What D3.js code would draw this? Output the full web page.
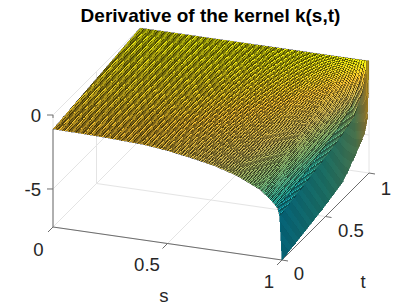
<!DOCTYPE html>
<html><head><meta charset="utf-8">
<script src="https://cdn.jsdelivr.net/npm/d3@7"></script>
<style>html,body{margin:0;padding:0;background:#fff}svg{display:block}text{font-family:"Liberation Sans",Arial,sans-serif}</style>
</head><body><svg id="c" width="407" height="305"></svg>
<script>
const title = "Derivative of the kernel k(s,t)";
const sTicks = [0, 0.5, 1];
const tTicks = [0, 0.5, 1];
const zTicks = [-5, 0];
const sKnots = [0, .2, .4, .5, .6, .7, .8, .9, .95, .98, .99, 1];
const tKnots = [0, .25, .5, .7, .85, .95, .98, .99, 1];
const zAtT000 = [-.95, -1.00, -1.12, -1.30, -1.55, -1.85, -2.30, -3.00, -3.60, -4.10, -4.65, -7.57];
const zAtT025 = [-.72, -.76, -.85, -.98, -1.17, -1.42, -1.80, -2.50, -3.10, -3.70, -4.25, -7.20];
const zAtT050 = [-.48, -.50, -.56, -.64, -.77, -.96, -1.28, -1.95, -2.60, -3.20, -3.80, -6.80];
const zAtT070 = [-.29, -.30, -.34, -.39, -.46, -.58, -.80, -1.40, -2.05, -2.75, -3.40, -6.40];
const zAtT085 = [-.14, -.15, -.17, -.19, -.23, -.29, -.42, -.85, -1.40, -2.20, -3.00, -5.40];
const zAtT095 = [-.05, -.05, -.06, -.07, -.08, -.10, -.15, -.30, -.55, -1.10, -1.90, -4.60];
const zAtT098 = [-.02, -.02, -.02, -.03, -.03, -.04, -.05, -.10, -.22, -.50, -1.00, -3.80];
const zAtT099 = [-.01, -.01, -.01, -.02, -.02, -.02, -.03, -.06, -.12, -.30, -.70, -2.20];
const zAtT100 = [0, 0, 0, 0, 0, 0, 0, 0, 0, 0, 0, 0];
const zRows = [zAtT000, zAtT025, zAtT050, zAtT070, zAtT085, zAtT095, zAtT098, zAtT099, zAtT100];
const parulaStops = ["#352a87","#0f5cdd","#1481d6","#06a4ca","#2eb7a4","#87bf77","#d1bb59","#fec832","#f9fb0e"];

const svg = d3.select("#c");
const sx = d3.scaleLinear([0,1],[0,229]), sy = d3.scaleLinear([0,1],[0,33]);
const tx = d3.scaleLinear([0,1],[0,87]), ty = d3.scaleLinear([0,1],[0,-87]);
const zy = d3.scaleLinear([-7.57,0],[0,-112]);
const P = (s,t,z) => [53+sx(s)+tx(t), 227+sy(s)+ty(t)+zy(z)];
const color = d3.scaleLinear(d3.range(parulaStops.length).map(i=>-7.57+7.57*i/(parulaStops.length-1)),parulaStops).interpolate(d3.interpolateRgb);
const rowScales = sKnots.map((_,j)=>d3.scaleLinear(tKnots,zRows.map(r=>r[j])));
const surf = (s,t)=>{ const col = sKnots.map((_,j)=>rowScales[j](t)); return d3.scaleLinear(sKnots,col)(s); };
const line = (a,b,col,w)=>svg.append("line").attr("x1",a[0]).attr("y1",a[1]).attr("x2",b[0]).attr("y2",b[1]).attr("stroke",col).attr("stroke-width",w||1);
const grid="#e4e4e4", ax="#6e6e6e", Z0=-7.57;
sTicks.forEach(s=>line(P(s,0,Z0),P(s,1,Z0),grid));
tTicks.forEach(t=>{line(P(0,t,Z0),P(1,t,Z0),grid);line(P(0,t,Z0),P(0,t,0),grid);});
sTicks.forEach(s=>line(P(s,1,Z0),P(s,1,0),grid));
zTicks.forEach(z=>{line(P(0,0,z),P(0,1,z),grid);line(P(0,1,z),P(1,1,z),grid);});
line(P(0,0,Z0),P(1,0,Z0),ax);
line(P(1,0,Z0),P(1,1,Z0),ax);
line(P(0,0,Z0),P(0,0,zAtT000[0]),ax);
line(P(0,0,0),P(0,0,-.2),ax);
sTicks.forEach(s=>{const p=P(s,0,Z0);line(p,[p[0]-5,p[1]+5],ax);});
tTicks.forEach(t=>{const p=P(1,t,Z0);line(p,[p[0]+6,p[1]+1],ax);});
zTicks.forEach(z=>{const p=P(0,0,z);line(p,[p[0]-6,p[1]],ax);});
const N=100, mesh=d3.range(N+1).map(i=>i/N);
const Zt=mesh.map(t=>mesh.map(s=>surf(s,t)));
const g=svg.append("g");
const dark=(c,k)=>d3.interpolateRgb(c,"#000")(k);
for(let j=N-1;j>=0;j--) for(let i=0;i<N;i++){
  const a=P(mesh[i],mesh[j],Zt[j][i]),b=P(mesh[i+1],mesh[j],Zt[j][i+1]),c=P(mesh[i+1],mesh[j+1],Zt[j+1][i+1]),d=P(mesh[i],mesh[j+1],Zt[j+1][i]);
  const q=g.append("path").attr("d",`M${a}L${b}L${c}L${d}Z`).attr("shape-rendering","crispEdges");
  if(i===N-1){ const f=color(Zt[j][i]); q.attr("fill",dark(f,.32)).attr("stroke",dark(f,.45)).attr("stroke-width",.6); }
  else { q.attr("fill",color((Zt[j][i]+Zt[j][i+1]+Zt[j+1][i+1]+Zt[j+1][i])/4)).attr("stroke","#000").attr("stroke-width",.5).attr("stroke-opacity",.62); }
}
const lab=(x,y,s,anchor)=>svg.append("text").attr("x",x).attr("y",y).attr("text-anchor",anchor||"middle").attr("dominant-baseline","central").attr("font-size",18.6).attr("fill","#262626").text(s);
lab(41,115,"0","end");lab(41,189,"-5","end");
lab(38.5,249,"0");lab(147,264,"0.5");lab(269,281,"1");lab(164,295,"s");
lab(299,273,"0");lab(351,230,"0.5");lab(386,188,"1");lab(363,281,"t");
svg.append("text").attr("x",210.5).attr("y",22).attr("text-anchor","middle").attr("font-size",19).attr("font-weight","bold").attr("fill","#000").text(title);
</script></body></html>
